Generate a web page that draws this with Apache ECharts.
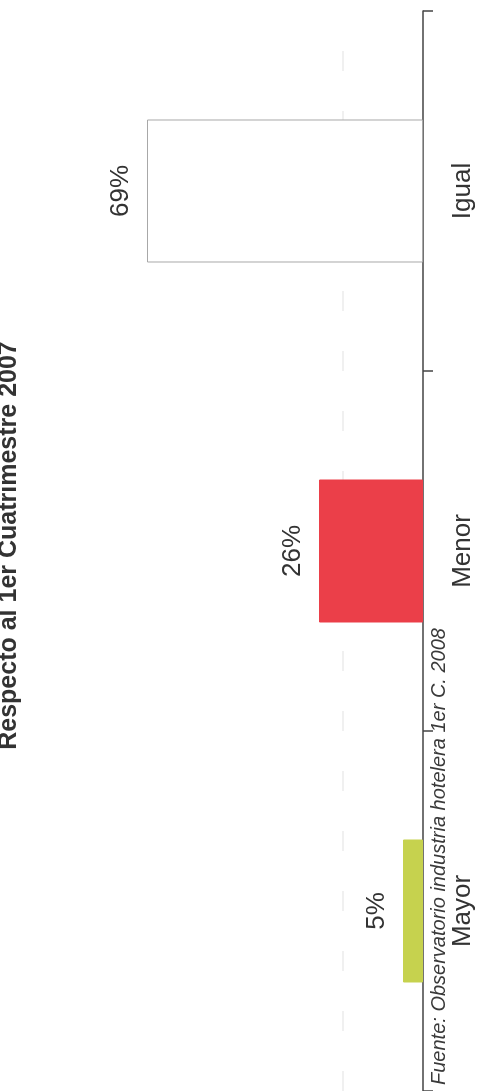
<!DOCTYPE html>
<html>
<head>
<meta charset="utf-8">
<script src="https://cdn.jsdelivr.net/npm/echarts@6/dist/echarts.min.js"></script>
<style>
  html, body { margin: 0; padding: 0; background: #fff; width: 480px; height: 1091px; overflow: hidden; }
  #chart { position: absolute; left: 0; top: 1091px; width: 1091px; height: 480px;
           transform-origin: 0 0; transform: rotate(-90deg); }
</style>
</head>
<body>
<div id="chart"></div>
<script>
const titleText = 'Respecto al 1er Cuatrimestre 2007';
const sourceText = 'Fuente: Observatorio industria hotelera 1er C. 2008';
const categories = ['Mayor', 'Menor', 'Igual'];
const values = [5, 26, 69];
const barColors = ['#c6d24e', '#eb3f49', '#ffffff'];
const borderColors = ['#c6d24e', '#eb3f49', '#a8a8a8'];
const gridValues = [20];

const chart = echarts.init(document.getElementById('chart'), null, { renderer: 'canvas' });
chart.setOption({
  animation: false,
  backgroundColor: '#fff',
  title: {
    text: titleText,
    left: 'center',
    top: -8,
    textStyle: { fontFamily: 'Liberation Sans, Arial, sans-serif', fontSize: 25, fontWeight: 'bold', color: '#333' }
  },
  grid: { left: 0, right: 11, top: 23, bottom: 57, containLabel: false },
  xAxis: {
    type: 'category',
    data: categories,
    boundaryGap: true,
    axisLine: { lineStyle: { color: '#444', width: 1.5 } },
    axisTick: { show: true, length: 10, lineStyle: { color: '#444', width: 1.5 } },
    axisLabel: { margin: 27, fontFamily: 'Liberation Sans, Arial, sans-serif', fontSize: 26, color: '#333' }
  },
  yAxis: {
    type: 'value', min: 0, max: 100,
    axisLine: { show: false }, axisTick: { show: false }, axisLabel: { show: false },
    splitLine: { show: false }
  },
  graphic: [{
    type: 'text', left: 6, top: 429,
    style: { text: sourceText, font: 'italic 20px "Liberation Sans", Arial, sans-serif', fill: '#3a3a3a' }
  }],
  series: [{
    type: 'bar',
    z: 3,
    barWidth: 143,
    data: values.map((v, i) => ({
      value: v,
      itemStyle: { color: barColors[i], borderColor: borderColors[i], borderWidth: 1 }
    })),
    label: {
      show: true, position: 'top', distance: 13,
      formatter: p => p.value + '%',
      fontFamily: 'Liberation Sans, Arial, sans-serif', fontSize: 26, color: '#333'
    }
  }, {
    type: 'line',
    z: 1,
    data: [],
    markLine: {
      silent: true, symbol: 'none', label: { show: false }, z: 1,
      lineStyle: { color: '#ececec', type: [20, 40], width: 1.5 },
      data: gridValues.map(v => ({ yAxis: v }))
    }
  }]
});
</script>
</body>
</html>
